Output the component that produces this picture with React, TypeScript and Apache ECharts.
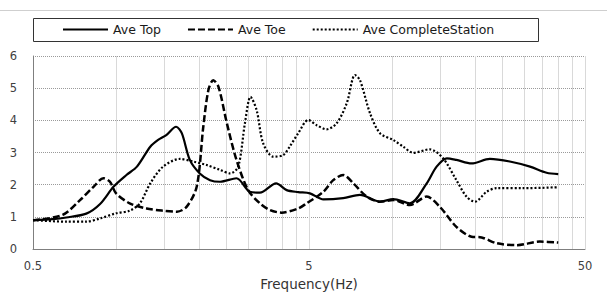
import React, { useEffect, useRef } from "react";
import * as echarts from "echarts";

const topFreq = [0.5, 0.59, 0.66, 0.78, 0.875, 0.98, 1.09, 1.19, 1.33, 1.42, 1.52, 1.65, 1.73, 1.85, 2.01, 2.19, 2.38, 2.73, 3.05, 3.32, 3.8, 4.15, 4.57, 5.04, 5.64, 6.65, 7.65, 9.04, 10.1, 11.6, 13.35, 14.5, 15.8, 17.1, 19.4, 22.6, 26.7, 31.6, 36.3, 40];
const topVal = [0.9, 0.93, 0.98, 1.1, 1.4, 1.94, 2.3, 2.56, 3.18, 3.39, 3.54, 3.8, 3.6, 2.77, 2.35, 2.14, 2.09, 2.2, 1.78, 1.75, 2.04, 1.83, 1.77, 1.73, 1.54, 1.58, 1.68, 1.47, 1.55, 1.42, 2.04, 2.56, 2.82, 2.77, 2.66, 2.8, 2.72, 2.56, 2.37, 2.33];

const toeFreq = [0.5, 0.64, 0.74, 0.83, 0.9, 0.95, 1.0, 1.12, 1.29, 1.48, 1.66, 1.8, 1.96, 2.07, 2.16, 2.25, 2.35, 2.52, 2.73, 3.01, 3.32, 3.61, 3.98, 4.57, 4.9, 5.64, 6.12, 6.65, 7.24, 8.09, 9.04, 10.1, 11.6, 13.35, 14.9, 17.1, 19.4, 21.1, 23.9, 28.3, 34.3, 40];
const toeVal = [0.89, 1.06, 1.52, 1.94, 2.2, 2.09, 1.73, 1.42, 1.26, 1.19, 1.16, 1.31, 1.94, 3.8, 4.94, 5.25, 5.04, 3.91, 2.77, 1.83, 1.42, 1.21, 1.13, 1.26, 1.42, 1.78, 2.14, 2.3, 2.04, 1.63, 1.47, 1.52, 1.37, 1.63, 1.31, 0.69, 0.38, 0.36, 0.18, 0.12, 0.23, 0.2];

const staFreq = [0.5, 0.66, 0.78, 0.875, 1.0, 1.12, 1.22, 1.33, 1.48, 1.7, 1.9, 2.13, 2.38, 2.59, 2.77, 2.93, 3.07, 3.23, 3.41, 3.71, 4.03, 4.27, 4.57, 4.97, 5.33, 5.79, 6.3, 6.85, 7.34, 7.65, 8.32, 9.04, 10.1, 10.98, 11.94, 13.7, 15.3, 17.1, 18.6, 19.97, 22.0, 23.9, 29.9, 40];
const staVal = [0.9, 0.85, 0.85, 0.95, 1.11, 1.19, 1.42, 2.04, 2.56, 2.8, 2.72, 2.61, 2.46, 2.35, 2.56, 3.91, 4.73, 4.32, 3.29, 2.87, 2.92, 3.2, 3.6, 4.01, 3.85, 3.72, 3.91, 4.53, 5.41, 5.25, 4.22, 3.6, 3.39, 3.18, 2.99, 3.1, 2.82, 2.14, 1.63, 1.47, 1.78, 1.89, 1.89, 1.92];

const seriesNames = ["Ave Top", "Ave Toe", "Ave CompleteStation"];
const xLabelValues = [0.5, 5, 50];
const xGridValues = [0.5, 1, 1.5, 2, 2.5, 3, 3.5, 4, 4.5, 5, 10, 15, 20, 25, 30, 35, 40, 45, 50];
const xTitle = "Frequency(Hz)";

const pairs = (f: number[], v: number[]) => f.map((x, i) => [x, v[i]]);

export default function App() {
  const ref = useRef<HTMLDivElement>(null);
  useEffect(() => {
    if (!ref.current) return;
    const chart = echarts.init(ref.current, undefined, { renderer: "svg" });
    const font = "DejaVu Sans";
    const lineSeries = (name: string, data: number[][], width: number, type: any) => ({
      name,
      type: "line",
      data,
      smooth: 0.3,
      symbol: "none",
      color: "#000",
      lineStyle: { color: "#000", width, type, cap: "butt" },
    });
    chart.setOption({
      animation: false,
      backgroundColor: "#fff",
      textStyle: { fontFamily: font },
      grid: { left: 33, right: 22, top: 56, bottom: 55, outerBoundsMode: "none" },
      legend: {
        data: seriesNames,
        left: 62,
        top: 23,
        padding: 0,
        itemWidth: 45,
        itemHeight: 14,
        itemGap: 26,
        itemStyle: { opacity: 0 },
        textStyle: { fontFamily: font, fontSize: 12.5, color: "#1a1a1a" },
      },
      graphic: [
        { type: "line", shape: { x1: 0, y1: 10.5, x2: 607, y2: 10.5 }, style: { stroke: "#cfcfcf", lineWidth: 1 } },
        { type: "rect", shape: { x: 33.5, y: 18.5, width: 505, height: 23 }, style: { fill: "none", stroke: "#333", lineWidth: 1 } },
      ],
      xAxis: {
        type: "log",
        logBase: 10,
        min: 0.5,
        max: 50,
        name: xTitle,
        nameLocation: "middle",
        nameGap: 28,
        nameTextStyle: { fontFamily: font, fontSize: 13.5, color: "#333" },
        axisLine: { show: true, lineStyle: { color: "#7f7f7f", width: 1 } },
        axisTick: { show: false, customValues: xGridValues },
        axisLabel: { customValues: xLabelValues, margin: 11, fontFamily: font, fontSize: 11.5, color: "#404040" },
        splitLine: { show: true, lineStyle: { color: "#d9d9d9", width: 1, type: "solid" } },
        minorSplitLine: { show: false },
      },
      yAxis: {
        type: "value",
        min: 0,
        max: 6,
        interval: 1,
        axisLine: { show: true, lineStyle: { color: "#7f7f7f", width: 1 } },
        axisTick: { show: false },
        axisLabel: { margin: 16, fontFamily: font, fontSize: 11.5, color: "#404040" },
        splitLine: { show: true, lineStyle: { color: "#9a9a9a", width: 1, type: [1, 1] } },
      },
      series: [
        lineSeries(seriesNames[0], pairs(topFreq, topVal), 2.2, "solid"),
        lineSeries(seriesNames[1], pairs(toeFreq, toeVal), 2.5, [7, 3]),
        lineSeries(seriesNames[2], pairs(staFreq, staVal), 2.2, [2, 2]),
      ],
    });
    return () => chart.dispose();
  }, []);
  return <div ref={ref} style={{ position: "fixed", left: 0, top: 0, width: 607, height: 304 }} />;
}
